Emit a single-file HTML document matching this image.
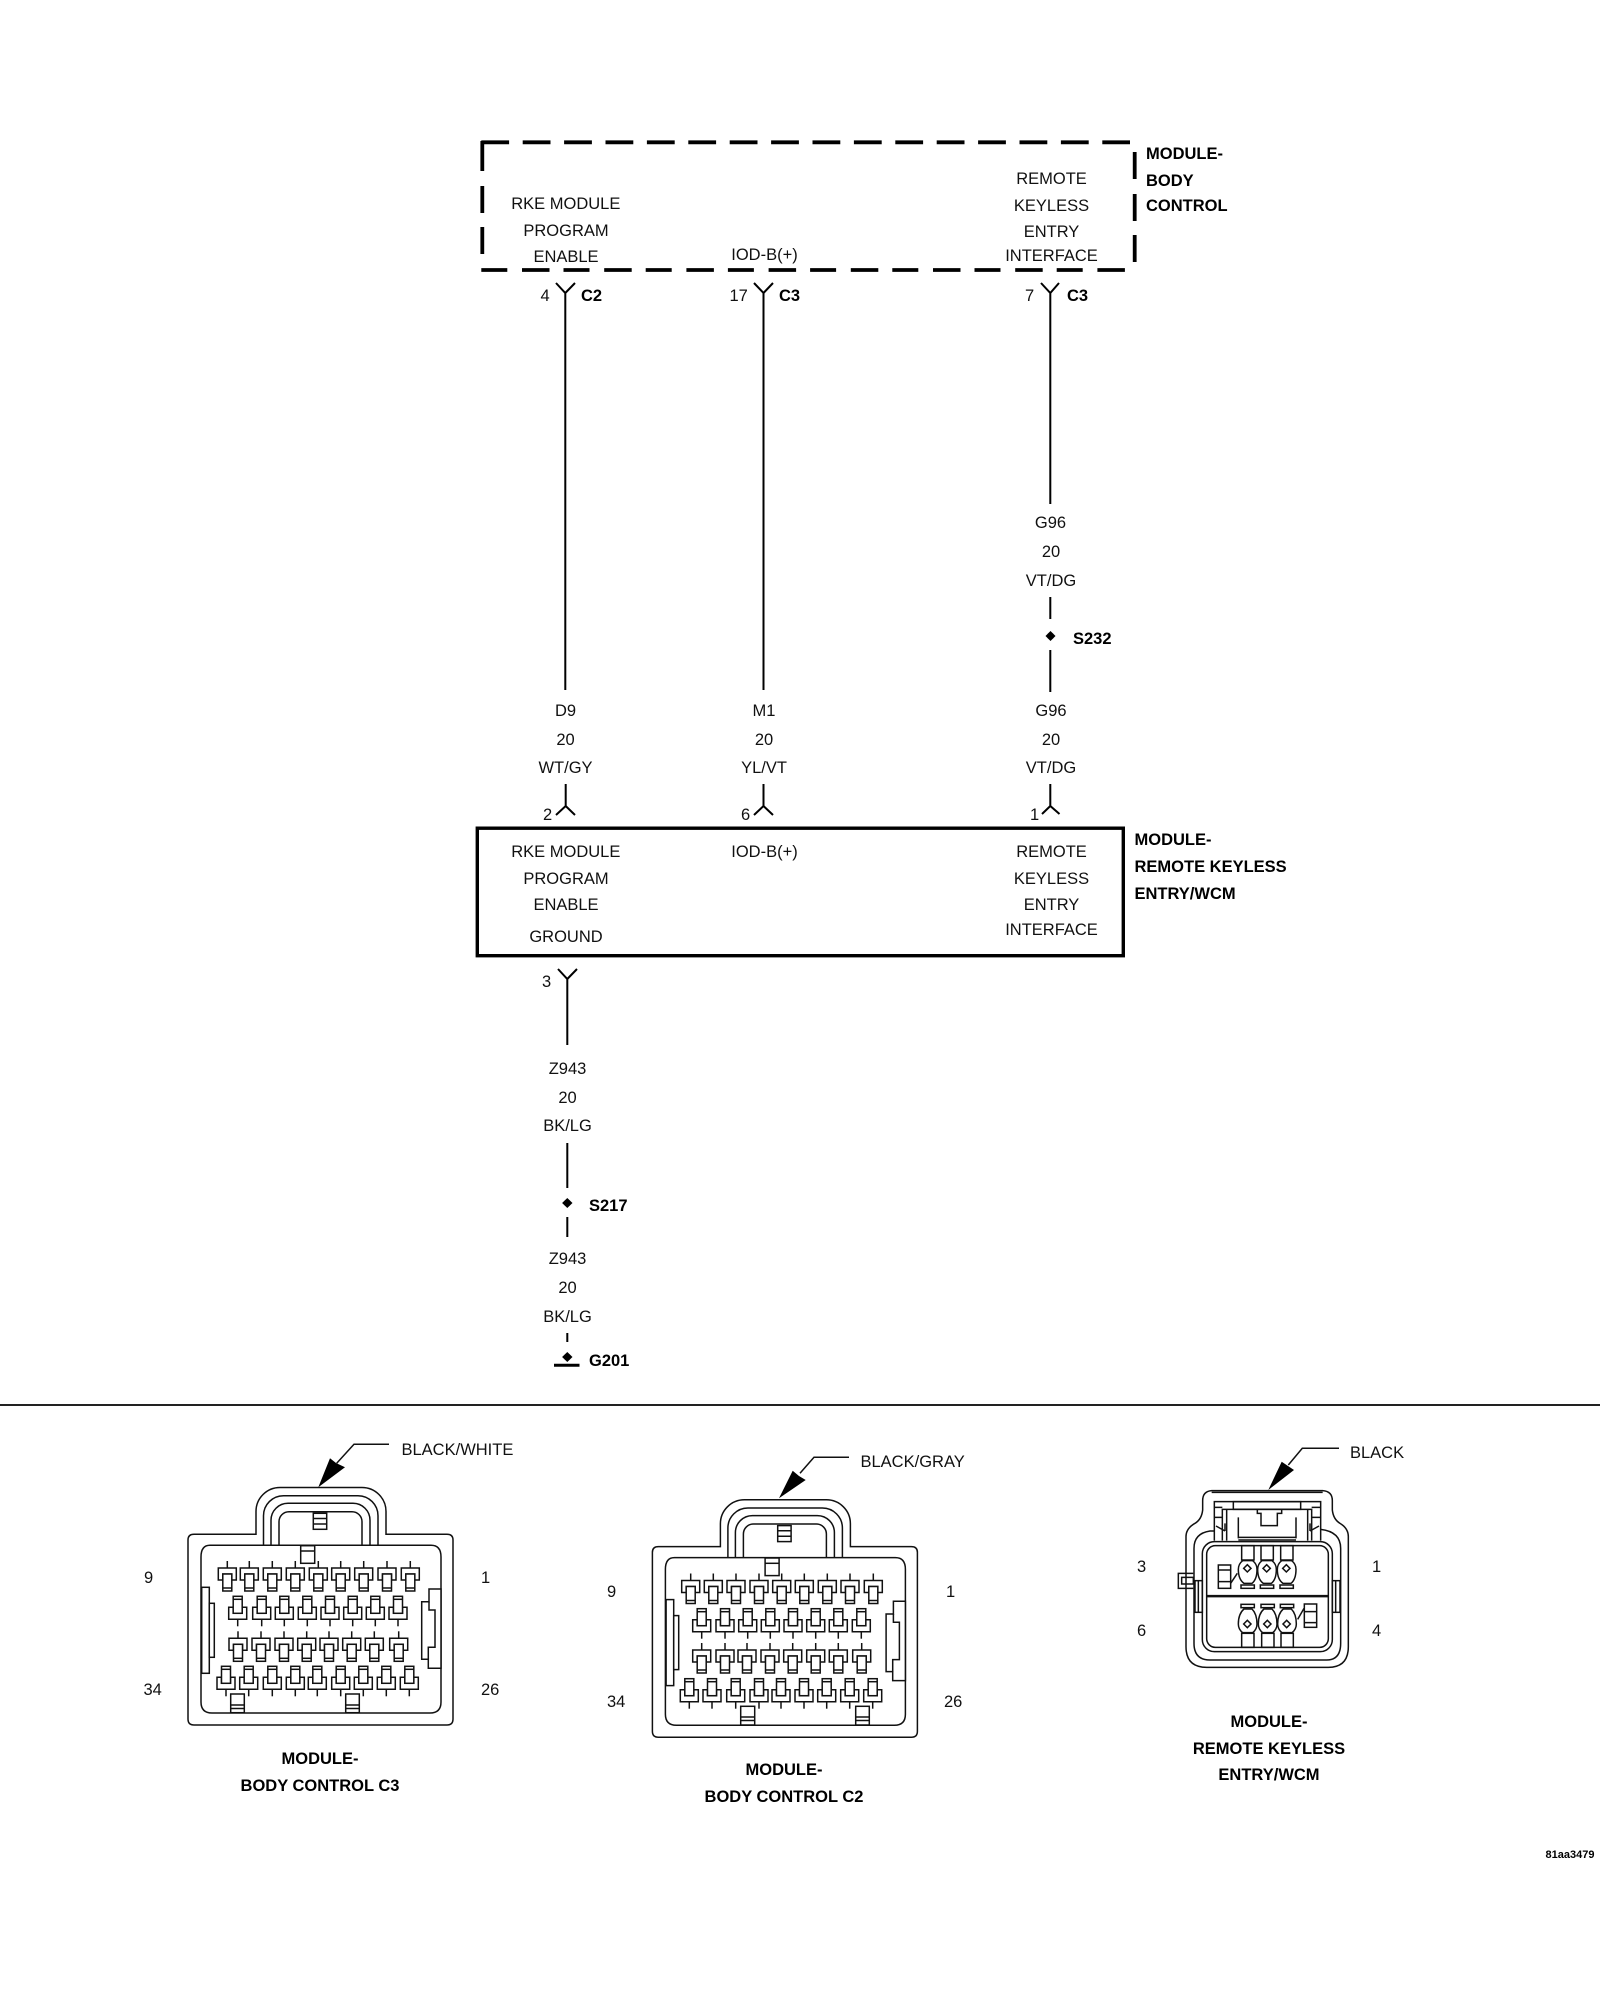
<!DOCTYPE html>
<html><head><meta charset="utf-8"><title>Wiring diagram</title>
<style>
html,body{margin:0;padding:0;background:#fff}
svg{display:block}
text{font-family:"Liberation Sans",sans-serif;font-size:16.5px;fill:#111}
.b{font-weight:bold;fill:#000}
.m{text-anchor:middle}
.l{stroke:#000;stroke-width:2;fill:none}
.c{stroke:#111;stroke-width:1.5;fill:#fff}
.n{stroke:#111;stroke-width:1.5;fill:none}
</style></head><body>
<svg width="1600" height="2000" viewBox="0 0 1600 2000" xmlns="http://www.w3.org/2000/svg">
<defs>
<g id="pd"><path class="n" d="M0-7V0"/><path class="c" d="M-9 0H9V12H4.5V6H-4.5V12H-9Z"/><rect class="c" x="-4.5" y="6" width="9" height="17"/><path class="n" d="M-4.5 20H4.5"/></g>
<g id="pu"><path class="n" d="M0 7V0"/><path class="c" d="M-9 0H9V-12H4.5V-6H-4.5V-12H-9Z"/><rect class="c" x="-4.5" y="-23" width="9" height="17"/><path class="n" d="M-4.5 -20H4.5"/></g>
<g id="ybody">
<path class="c" d="M188 1540Q188 1534.300 194 1534.300H256V1511.500A24 24 0 0 1 280 1487.500H362A24 24 0 0 1 386 1511.500V1534.300H447Q453 1534.300 453 1540V1719Q453 1725 447 1725H194Q188 1725 188 1719Z"/>
<path class="n" d="M263.500 1545V1515.700A20 20 0 0 1 283.500 1495.700H358A20 20 0 0 1 378 1515.700V1545"/>
<path class="n" d="M271 1545V1520.300A17 17 0 0 1 288 1503.300H353A17 17 0 0 1 370 1520.300V1545"/>
<path class="n" d="M279 1545V1521.700A10 10 0 0 1 289 1511.700H352A10 10 0 0 1 362 1521.700V1545"/>
<path class="c" d="M210 1545.300H431Q441 1545.300 441 1557V1702Q441 1713 430 1713H212Q201 1713 201 1702V1557Q201 1545.300 210 1545.300Z"/>
<rect class="c" x="313.300" y="1513.300" width="13.400" height="16"/><path class="n" d="M313.300 1518.500H326.700M313.300 1524H326.700"/>
<rect class="c" x="300.700" y="1545.700" width="14" height="17.600"/><path class="n" d="M300.700 1551H314.700"/>
<rect class="c" x="201.700" y="1587.300" width="7.600" height="86"/><rect class="c" x="209.300" y="1603.300" width="5" height="54"/>
<path class="c" d="M441 1589H429V1601.700H421.700V1659.300H428.300V1668.300H441Z"/><path class="n" d="M429 1601.700V1610H435V1647.300H428.300V1659.300"/>
</g>
</defs>
<rect width="1600" height="2000" fill="#fff"/>

<!-- dashed module box -->
<g stroke="#000" stroke-width="3.800" fill="none">
<path d="M481.300 142.300H1130" stroke-dasharray="27.800 13.600"/>
<path d="M481.300 270H1128" stroke-dasharray="26 14.700 27.500 14"/>
<path d="M482.300 141V171M482.300 186V213M482.300 227V254"/>
<path d="M1134.700 152V179M1134.700 194V221M1134.700 235V262"/>
</g>
<text class="m" x="565.800" y="209">RKE MODULE</text>
<text class="m" x="566" y="236">PROGRAM</text>
<text class="m" x="566" y="262">ENABLE</text>
<text class="m" x="764.500" y="260">IOD-B(+)</text>
<text class="m" x="1051.500" y="184">REMOTE</text>
<text class="m" x="1051.500" y="211">KEYLESS</text>
<text class="m" x="1051.500" y="237">ENTRY</text>
<text class="m" x="1051.500" y="261">INTERFACE</text>
<text class="b" x="1146" y="159">MODULE-</text>
<text class="b" x="1146" y="186">BODY</text>
<text class="b" x="1146" y="211">CONTROL</text>

<!-- top connectors + wires -->
<path class="l" d="M556 283L565.300 293L575 283M565.300 293V690"/>
<path class="l" d="M754 283L763.500 293L773 283M763.500 293V690"/>
<path class="l" d="M1041 283L1050.300 293L1059 283M1050.300 293V504"/>
<text x="540.500" y="301">4</text><text class="b" x="581" y="301">C2</text>
<text x="729.500" y="301">17</text><text class="b" x="779" y="301">C3</text>
<text x="1025" y="301">7</text><text class="b" x="1067" y="301">C3</text>

<text class="m" x="1050.500" y="528">G96</text><text class="m" x="1051" y="557">20</text><text class="m" x="1051" y="586">VT/DG</text>
<path class="l" d="M1050.300 597V619M1050.300 650V692"/>
<circle cx="1050.500" cy="636" r="3.500" fill="#000"/><path d="M1050.500 631L1055.500 636L1050.500 641L1045.500 636Z" fill="#000"/>
<text class="b" x="1073" y="644">S232</text>

<text class="m" x="565.500" y="716">D9</text><text class="m" x="565.500" y="745">20</text><text class="m" x="565.500" y="773">WT/GY</text>
<text class="m" x="764" y="716">M1</text><text class="m" x="764" y="745">20</text><text class="m" x="764" y="773">YL/VT</text>
<text class="m" x="1051" y="716">G96</text><text class="m" x="1051" y="745">20</text><text class="m" x="1051" y="773">VT/DG</text>

<path class="l" d="M565.700 784V806M556 815L565.700 806L575 815"/>
<path class="l" d="M763.500 784V806M754 815L763.500 806L773 815"/>
<path class="l" d="M1050.300 784V806M1042 814L1050.300 806L1059.500 814"/>
<text x="543" y="820">2</text><text x="741" y="820">6</text><text x="1030" y="820">1</text>

<!-- remote keyless box -->
<rect x="477.300" y="828.200" width="646" height="127.500" fill="none" stroke="#000" stroke-width="3.400"/>
<text class="m" x="565.800" y="857">RKE MODULE</text>
<text class="m" x="566" y="884">PROGRAM</text>
<text class="m" x="566" y="910">ENABLE</text>
<text class="m" x="566" y="942">GROUND</text>
<text class="m" x="764.500" y="857">IOD-B(+)</text>
<text class="m" x="1051.500" y="857">REMOTE</text>
<text class="m" x="1051.500" y="884">KEYLESS</text>
<text class="m" x="1051.500" y="910">ENTRY</text>
<text class="m" x="1051.500" y="935">INTERFACE</text>
<text class="b" x="1134.500" y="845">MODULE-</text>
<text class="b" x="1134.500" y="872">REMOTE KEYLESS</text>
<text class="b" x="1134.500" y="899">ENTRY/WCM</text>

<!-- ground run -->
<path class="l" d="M558 969L567.300 979L577 969M567.300 979V1045"/>
<text x="542" y="987">3</text>
<text class="m" x="567.500" y="1074">Z943</text><text class="m" x="567.500" y="1103">20</text><text class="m" x="567.500" y="1131">BK/LG</text>
<path class="l" d="M567.300 1143V1188M567.300 1217V1237M567.300 1333V1342"/>
<path d="M567.300 1198L572.500 1203L567.300 1208L562.100 1203Z" fill="#000"/><circle cx="567.300" cy="1203" r="3.500" fill="#000"/>
<text class="b" x="589" y="1211">S217</text>
<text class="m" x="567.500" y="1264">Z943</text><text class="m" x="567.500" y="1293">20</text><text class="m" x="567.500" y="1322">BK/LG</text>
<path d="M567.300 1352L572.500 1357L567.300 1362L562.100 1357Z" fill="#000"/><circle cx="567.300" cy="1357" r="3.500" fill="#000"/>
<path d="M554 1365.300H579.500" stroke="#000" stroke-width="3"/>
<text class="b" x="589" y="1366">G201</text>

<path d="M0 1405H1600" stroke="#222" stroke-width="2"/>

<!-- C3 connector -->
<use href="#ybody"/>
<rect class="c" x="230.700" y="1694" width="13.600" height="18.700"/><path class="n" d="M230.700 1705H244.300M230.700 1708.500H244.300"/>
<rect class="c" x="345.700" y="1694" width="13.600" height="18.700"/><path class="n" d="M345.700 1705H359.300M345.700 1708.500H359.300"/>
<use href="#pd" x="227.300" y="1568"/><use href="#pd" x="249.300" y="1568"/><use href="#pd" x="272.300" y="1568"/><use href="#pd" x="295.300" y="1568"/><use href="#pd" x="318.300" y="1568"/><use href="#pd" x="340.700" y="1568"/><use href="#pd" x="363.700" y="1568"/><use href="#pd" x="387" y="1568"/><use href="#pd" x="410.300" y="1568"/>
<use href="#pu" x="237.700" y="1619.300"/><use href="#pu" x="261.700" y="1619.300"/><use href="#pu" x="284.300" y="1619.300"/><use href="#pu" x="307.300" y="1619.300"/><use href="#pu" x="330" y="1619.300"/><use href="#pu" x="352.700" y="1619.300"/><use href="#pu" x="375.300" y="1619.300"/><use href="#pu" x="398" y="1619.300"/>
<use href="#pd" x="238" y="1638.300"/><use href="#pd" x="261" y="1638.300"/><use href="#pd" x="284" y="1638.300"/><use href="#pd" x="306.700" y="1638.300"/><use href="#pd" x="329" y="1638.300"/><use href="#pd" x="351.700" y="1638.300"/><use href="#pd" x="374.300" y="1638.300"/><use href="#pd" x="398.700" y="1638.300"/>
<use href="#pu" x="226" y="1689.300"/><use href="#pu" x="248.700" y="1689.300"/><use href="#pu" x="272.300" y="1689.300"/><use href="#pu" x="295.300" y="1689.300"/><use href="#pu" x="317.300" y="1689.300"/><use href="#pu" x="340.700" y="1689.300"/><use href="#pu" x="363.300" y="1689.300"/><use href="#pu" x="386.300" y="1689.300"/><use href="#pu" x="409.300" y="1689.300"/>
<path class="n" d="M389 1444.300H354L336.700 1463.300"/>
<path d="M318.300 1487.300L330 1458.300L336 1463L345 1467.300Z" fill="#000"/>
<text x="401.500" y="1455">BLACK/WHITE</text>
<text x="144" y="1583">9</text><text x="481" y="1583">1</text><text x="143.500" y="1695">34</text><text x="481" y="1695">26</text>
<text class="b m" x="320" y="1764">MODULE-</text>
<text class="b m" x="320" y="1791">BODY CONTROL C3</text>

<!-- C2 connector -->
<use href="#ybody" x="464.400" y="12.300"/>
<rect class="c" x="740.700" y="1706.300" width="14" height="18.700"/><path class="n" d="M740.700 1717H754.700M740.700 1720.500H754.700"/>
<rect class="c" x="855.700" y="1706.300" width="13.600" height="18.700"/><path class="n" d="M855.700 1717H869.300M855.700 1720.500H869.300"/>
<use href="#pd" x="690.700" y="1580.500"/><use href="#pd" x="713.300" y="1580.500"/><use href="#pd" x="736" y="1580.500"/><use href="#pd" x="759" y="1580.500"/><use href="#pd" x="781.700" y="1580.500"/><use href="#pd" x="804.300" y="1580.500"/><use href="#pd" x="827.300" y="1580.500"/><use href="#pd" x="850" y="1580.500"/><use href="#pd" x="873.300" y="1580.500"/>
<use href="#pu" x="701.700" y="1631.700"/><use href="#pu" x="725" y="1631.700"/><use href="#pu" x="747.700" y="1631.700"/><use href="#pu" x="770.300" y="1631.700"/><use href="#pu" x="793" y="1631.700"/><use href="#pu" x="815.700" y="1631.700"/><use href="#pu" x="838.300" y="1631.700"/><use href="#pu" x="861.300" y="1631.700"/>
<use href="#pd" x="701.700" y="1650"/><use href="#pd" x="725" y="1650"/><use href="#pd" x="747" y="1650"/><use href="#pd" x="770" y="1650"/><use href="#pd" x="792.700" y="1650"/><use href="#pd" x="815.700" y="1650"/><use href="#pd" x="838.300" y="1650"/><use href="#pd" x="861.700" y="1650"/>
<use href="#pu" x="689.300" y="1701.700"/><use href="#pu" x="712" y="1701.700"/><use href="#pu" x="735.700" y="1701.700"/><use href="#pu" x="759" y="1701.700"/><use href="#pu" x="781" y="1701.700"/><use href="#pu" x="804" y="1701.700"/><use href="#pu" x="826.700" y="1701.700"/><use href="#pu" x="849.700" y="1701.700"/><use href="#pu" x="872.700" y="1701.700"/>
<path class="n" d="M849 1457.300H814L800 1473.300"/>
<path d="M779 1498.300L792.700 1470.700L799 1476L805.700 1480Z" fill="#000"/>
<text x="860.500" y="1467">BLACK/GRAY</text>
<text x="607" y="1597">9</text><text x="946" y="1597">1</text><text x="607" y="1707">34</text><text x="944" y="1707">26</text>
<text class="b m" x="784" y="1775">MODULE-</text>
<text class="b m" x="784" y="1802">BODY CONTROL C2</text>

<!-- WCM connector -->
<g transform="translate(1130 1430) scale(.33333)" stroke-width="4.500" fill="none" stroke="#111">
<path d="M245 182H578Q607 184 607 212V240Q610 268 630 280Q655 295 655 320V650Q655 712 595 712H230Q168 712 168 650V320Q168 295 195 280Q215 268 218 240V212Q218 184 245 182Z" fill="#fff"/>
<path d="M245 187H578"/>
<path d="M253 303H240Q192 310 192 355V640Q192 690 240 690H590Q632 690 632 640V355Q632 305 572 298"/>
<rect x="217" y="335" width="390" height="330" rx="36"/>
<rect x="230" y="347" width="365" height="305" rx="26"/>
<path d="M230 497H595M230 500H595"/>
<path d="M253 332V215H572V332"/>
<rect x="310" y="215" width="202" height="23"/>
<path d="M277 332V238H545V332M290 332V238M533 332V238M253 232H277M545 232H572M253 262H277M545 262H572"/>
<path d="M325 262V325M498 262V325M325 322H498M325 330H498"/>
<path d="M382 238V250H393V287H442V250H455V238M382 250H393M442 250H455"/>
<path d="M258 288L285 303M285 280V303M567 288L540 303M540 280V303"/>
<path d="M190 430H145V475H190M155 442H190V462H155Z"/>
<rect x="195" y="452" width="22" height="95"/><path d="M205 452V547"/>
<rect x="607" y="452" width="23" height="95"/><path d="M617 452V547"/>
<rect x="265" y="405" width="37" height="70" fill="#fff"/><path d="M265 420H302M265 455H302"/>
<path d="M302 460L322 430"/>
<rect x="523" y="522" width="37" height="70" fill="#fff"/><path d="M523 545H560M523 578H560"/>
<path d="M522 535L503 568"/>
<g id="tu">
<rect x="335" y="347" width="37" height="43"/>
<path d="M338 392H368Q381 402 381 418Q381 448 366 460H342Q325 448 325 418Q325 402 338 392Z" fill="#fff"/>
<path d="M352 404L363 415L352 426L341 415Z"/><rect x="333" y="465" width="40" height="10"/>
</g>
<use href="#tu" x="58"/><use href="#tu" x="117"/>
<g id="tl">
<rect x="335" y="610" width="37" height="42"/>
<path d="M338 608H368Q381 598 381 582Q381 552 366 537H342Q325 552 325 582Q325 598 338 608Z" fill="#fff"/>
<path d="M352 571L363 582L352 593L341 582Z"/><rect x="333" y="523" width="40" height="10"/>
</g>
<use href="#tl" x="60"/><use href="#tl" x="118"/>
</g>
<path class="n" d="M1339 1448.300H1302.300L1288.300 1465"/>
<path d="M1268.300 1490L1281.700 1461.700L1288 1466L1294 1470Z" fill="#000"/>
<text x="1350" y="1458">BLACK</text>
<text x="1137" y="1572">3</text><text x="1372" y="1572">1</text><text x="1137" y="1636">6</text><text x="1372" y="1636">4</text>
<text class="b m" x="1269" y="1727">MODULE-</text>
<text class="b m" x="1269" y="1754">REMOTE KEYLESS</text>
<text class="b m" x="1269" y="1780">ENTRY/WCM</text>

<text class="b" x="1545.500" y="1858" style="font-size:11px">81aa3479</text>
</svg>
</body></html>
